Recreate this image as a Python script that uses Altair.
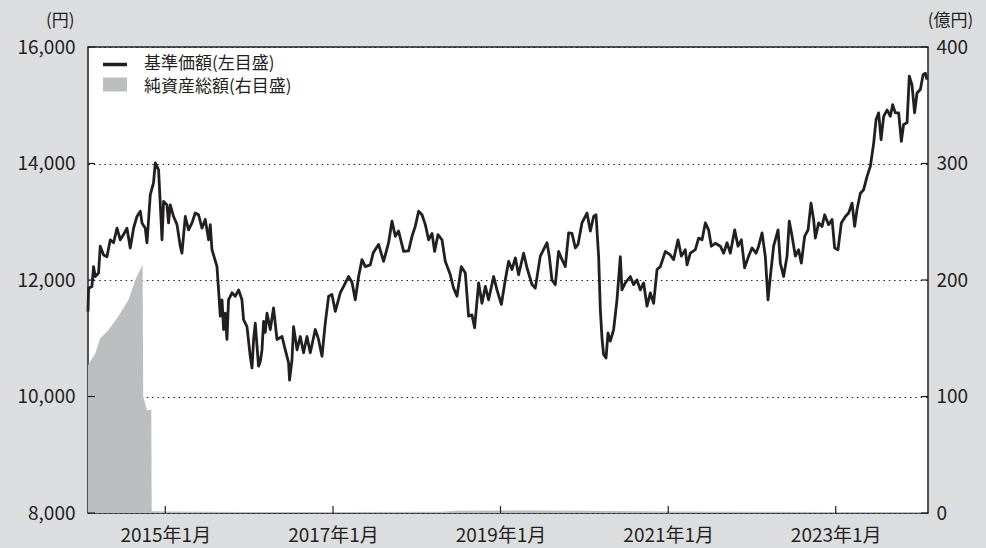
import altair as alt
import pandas as pd

# 基準価額 (円): decimal year, value
nav_year = [
    2014.078, 2014.085, 2014.125, 2014.144, 2014.165, 2014.204, 2014.224, 2014.264, 2014.304, 2014.344,
    2014.383, 2014.424, 2014.463, 2014.502, 2014.543, 2014.582, 2014.622, 2014.662, 2014.702, 2014.722,
    2014.761, 2014.782, 2014.821, 2014.860, 2014.881, 2014.920, 2014.940, 2014.961, 2014.980, 2015.020,
    2015.039, 2015.060, 2015.099, 2015.140, 2015.179, 2015.199, 2015.239, 2015.278, 2015.319, 2015.358,
    2015.397, 2015.438, 2015.477, 2015.517, 2015.537, 2015.557, 2015.576, 2015.617, 2015.636, 2015.656,
    2015.677, 2015.696, 2015.716, 2015.736, 2015.755, 2015.796, 2015.835, 2015.875, 2015.915, 2015.934,
    2015.975, 2016.014, 2016.035, 2016.054, 2016.074, 2016.113, 2016.134, 2016.154, 2016.173, 2016.193,
    2016.214, 2016.253, 2016.292, 2016.333, 2016.393, 2016.432, 2016.471, 2016.483, 2016.512, 2016.531,
    2016.572, 2016.611, 2016.650, 2016.691, 2016.730, 2016.790, 2016.829, 2016.870, 2016.909, 2016.949,
    2016.989, 2017.029, 2017.088, 2017.128, 2017.187, 2017.228, 2017.267, 2017.307, 2017.347, 2017.387,
    2017.446, 2017.482, 2017.545, 2017.605, 2017.665, 2017.705, 2017.745, 2017.784, 2017.844, 2017.903,
    2017.944, 2017.983, 2018.023, 2018.063, 2018.103, 2018.142, 2018.183, 2018.214, 2018.254, 2018.302,
    2018.341, 2018.401, 2018.440, 2018.481, 2018.532, 2018.580, 2018.619, 2018.660, 2018.691, 2018.739,
    2018.779, 2018.819, 2018.858, 2018.918, 2018.958, 2019.010, 2019.057, 2019.097, 2019.137, 2019.177,
    2019.216, 2019.276, 2019.316, 2019.376, 2019.415, 2019.475, 2019.555, 2019.582, 2019.614, 2019.654,
    2019.693, 2019.734, 2019.773, 2019.813, 2019.853, 2019.893, 2019.925, 2019.972, 2020.032, 2020.072,
    2020.111, 2020.140, 2020.171, 2020.191, 2020.211, 2020.230, 2020.259, 2020.283, 2020.310, 2020.350,
    2020.390, 2020.430, 2020.449, 2020.489, 2020.549, 2020.588, 2020.628, 2020.668, 2020.708, 2020.748,
    2020.788, 2020.827, 2020.868, 2020.907, 2020.967, 2021.026, 2021.066, 2021.118, 2021.158, 2021.205,
    2021.226, 2021.265, 2021.325, 2021.364, 2021.405, 2021.444, 2021.483, 2021.516, 2021.563, 2021.623,
    2021.662, 2021.703, 2021.742, 2021.794, 2021.834, 2021.874, 2021.913, 2021.961, 2022.001, 2022.049,
    2022.080, 2022.121, 2022.160, 2022.192, 2022.220, 2022.259, 2022.312, 2022.339, 2022.378, 2022.419,
    2022.446, 2022.479, 2022.518, 2022.557, 2022.590, 2022.629, 2022.670, 2022.705, 2022.736, 2022.757,
    2022.796, 2022.837, 2022.868, 2022.915, 2022.956, 2022.987, 2023.027, 2023.067, 2023.115, 2023.154,
    2023.195, 2023.226, 2023.254, 2023.294, 2023.333, 2023.374, 2023.413, 2023.453, 2023.481, 2023.512,
    2023.541, 2023.572, 2023.613, 2023.652, 2023.679, 2023.711, 2023.751, 2023.783, 2023.810, 2023.851,
    2023.878, 2023.910, 2023.941, 2023.970, 2024.010, 2024.042, 2024.069, 2024.089,
]
nav_value = [
    11460, 11860, 11890, 12230, 12060, 12120, 12580, 12430, 12400, 12690,
    12640, 12890, 12690, 12780, 12890, 12550, 12890, 13090, 13180, 12980,
    12890, 12640, 13460, 13670, 14010, 13890, 13320, 12690, 13350, 13290,
    12980, 13290, 13090, 12950, 12580, 12460, 13090, 12860, 12980, 13150,
    13120, 12890, 13040, 12690, 12950, 12520, 12430, 12230, 11830, 11380,
    11660, 11150, 11430, 10980, 11660, 11780, 11720, 11830, 11660, 11320,
    11200, 10690, 10490, 10980, 11260, 10520, 10600, 10800, 11290, 11100,
    11430, 11150, 11520, 10980, 11030, 10800, 10580, 10280, 10630, 11200,
    10800, 11030, 10750, 11030, 10750, 11150, 10980, 10690, 11260, 11720,
    11750, 11460, 11780, 11890, 12060, 11960, 11660, 12060, 12350, 12230,
    12260, 12470, 12610, 12320, 12640, 13010, 12750, 12840, 12490, 12500,
    12750, 12920, 13180, 13120, 12950, 12690, 12800, 12490, 12780, 12690,
    12320, 12090, 11860, 11720, 12230, 12120, 11380, 11400, 11180, 11950,
    11600, 11890, 11660, 12060, 11830, 11580, 12000, 12320, 12180, 12380,
    12090, 12460, 12210, 11920, 11860, 12410, 12640, 12410, 12000, 11920,
    12490, 12350, 12230, 12810, 12800, 12550, 12610, 12980, 13150, 12840,
    13090, 13120, 12400, 11500, 11000, 10720, 10660, 11090, 10950, 11150,
    11660, 12400, 11830, 11950, 12060, 11920, 12000, 11830, 11950, 11550,
    11780, 11600, 12180, 12230, 12490, 12430, 12350, 12690, 12410, 12520,
    12260, 12460, 12520, 12720, 12690, 12980, 12860, 12580, 12630, 12580,
    12460, 12640, 12460, 12860, 12580, 12690, 12210, 12410, 12550, 12460,
    12580, 12810, 12400, 11660, 12060, 12580, 12860, 12290, 12060, 12410,
    13010, 12750, 12410, 12520, 12290, 12750, 12860, 13320, 13040, 12720,
    12980, 12920, 13120, 12950, 13040, 12550, 12520, 12980, 13090, 13150,
    13320, 12920, 13210, 13490, 13550, 13780, 13950, 14350, 14750, 14870,
    14410, 14810, 14920, 14810, 15010, 14870, 14870, 14380, 14670, 14700,
    15500, 15350, 14870, 15210, 15270, 15520, 15550, 15440,
]

# 純資産総額 (億円)
aum_year = [2014.078, 2014.165, 2014.224, 2014.323, 2014.443, 2014.562, 2014.642, 2014.729, 2014.737,
            2014.782, 2014.833, 2014.838, 2015.000, 2016.000, 2017.000, 2018.300, 2018.500, 2019.500,
            2020.300, 2021.000, 2022.000, 2023.000, 2024.089]
aum_value = [127, 137, 150, 157, 169, 183, 200, 213, 100,
             88, 89, 1.5, 1.2, 0.8, 0.8, 1.0, 2.0, 2.2,
             1.8, 1.3, 1.0, 0.8, 0.8]

x_range = [2014.078, 2024.101]
tick_years = [2015, 2017, 2019, 2021, 2023]
left_ticks = [8000, 10000, 12000, 14000, 16000]
right_ticks = [0, 100, 200, 300, 400]
legend_labels = ["基準価額(左目盛)", "純資産総額(右目盛)"]

FONT = "Noto Sans CJK JP"
INK = "#231f20"
GRAY = "#bcbec0"


def to_ts(y):
    return pd.Timestamp("2015-01-01") + pd.to_timedelta((y - 2015) * 365.25, unit="D")


def to_str(y):
    return to_ts(y).strftime("%Y-%m-%dT%H:%M:%S")


def to_dt(y):
    t = to_ts(y)
    return alt.DateTime(year=t.year, month=t.month, date=t.day, hours=t.hour, minutes=t.minute)


nav_df = pd.DataFrame({"date": [to_str(v) for v in nav_year], "nav": nav_value})
aum_df = pd.DataFrame({"date": [to_str(v) for v in aum_year], "aum": aum_value})
xtick_df = pd.DataFrame({"date": [f"{y}-01-01T00:00:00" for y in tick_years]})
ytick_df = pd.DataFrame({"v": left_ticks})

x_scale = alt.Scale(domain=[to_dt(x_range[0]), to_dt(x_range[1])])
y_left = alt.Scale(domain=[8000, 16000], nice=False)
y_right = alt.Scale(domain=[0, 400], nice=False)


def x_axis():
    return alt.Axis(
        values=[alt.DateTime(year=y, month=1, date=1) for y in tick_years],
        labelExpr="timeFormat(datum.value, '%Y') + '年' + (month(datum.value) + 1) + '月'",
        ticks=False, domain=False, grid=False, labelPadding=13,
        labelFontSize=19, labelColor=INK, labelFont=FONT, title=None,
    )


X = alt.X("date:T", scale=x_scale, axis=x_axis(), title=None)

area = alt.Chart(aum_df).mark_area(color=GRAY, opacity=1, interpolate="linear").encode(
    x=X,
    y=alt.Y("aum:Q", scale=y_right, axis=alt.Axis(
        orient="right", values=right_ticks, format="d", ticks=False, domain=False, grid=False,
        labelFontSize=19, labelColor=INK, labelFont=FONT, labelPadding=8,
        title="(億円)", titleAngle=0, titleFont=FONT, titleFontSize=17, titleFontWeight="normal",
        titleColor=INK, titleAlign="center", titleBaseline="middle", titleX=22, titleY=-27,
    )),
)

line = alt.Chart(nav_df).mark_line(color=INK, strokeWidth=2.8, strokeJoin="round").encode(
    x=X,
    y=alt.Y("nav:Q", scale=y_left, axis=alt.Axis(
        orient="left", values=left_ticks, format=",.0f", ticks=False, domain=False,
        grid=True, gridDash=[1.5, 3.8], gridColor=INK, gridWidth=1.1,
        labelFontSize=19, labelColor=INK, labelFont=FONT, labelPadding=13,
        title="(円)", titleAngle=0, titleFont=FONT, titleFontSize=17, titleFontWeight="normal",
        titleColor=INK, titleAlign="right", titleBaseline="middle", titleX=-14, titleY=-27,
    )),
)

ltick = alt.Chart(ytick_df).mark_rule(color=INK, strokeWidth=1.2).encode(
    y=alt.Y("v:Q", scale=y_left, axis=None), x=alt.value(0), x2=alt.value(7))
rtick = alt.Chart(ytick_df).mark_rule(color=INK, strokeWidth=1.2).encode(
    y=alt.Y("v:Q", scale=y_left, axis=None), x=alt.value(833), x2=alt.value(840))
xtick = alt.Chart(xtick_df).mark_rule(color=INK, strokeWidth=1.2).encode(
    x=X, y=alt.value(466), y2=alt.value(459))

leg_line = alt.Chart(pd.DataFrame({"k": [0]})).mark_rule(color=INK, strokeWidth=3.5).encode(
    x=alt.value(15), x2=alt.value(39), y=alt.value(17.5))
leg_rect = alt.Chart(pd.DataFrame({"k": [0]})).mark_rect(color=GRAY).encode(
    x=alt.value(15), x2=alt.value(39), y=alt.value(30.5), y2=alt.value(44.5))
leg_t1 = alt.Chart(pd.DataFrame({"label": [legend_labels[0]]})).mark_text(
    font=FONT, fontSize=17, color=INK, align="left", baseline="middle").encode(
    text="label:N", x=alt.value(56), y=alt.value(16.5))
leg_t2 = alt.Chart(pd.DataFrame({"label": [legend_labels[1]]})).mark_text(
    font=FONT, fontSize=17, color=INK, align="left", baseline="middle").encode(
    text="label:N", x=alt.value(56), y=alt.value(40))

chart = alt.layer(
    area, line, ltick, rtick, xtick, leg_line, leg_rect, leg_t1, leg_t2
).resolve_scale(y="independent").properties(
    width=840, height=466,
    autosize=alt.AutoSizeParams(type="none"),
    padding={"left": 88, "top": 47, "right": 58, "bottom": 35},
    background="#dcdddf",
).configure_view(fill="white", stroke=INK, strokeWidth=1.5)

chart.save("out.html", embed_options={"renderer": "svg", "actions": False})
